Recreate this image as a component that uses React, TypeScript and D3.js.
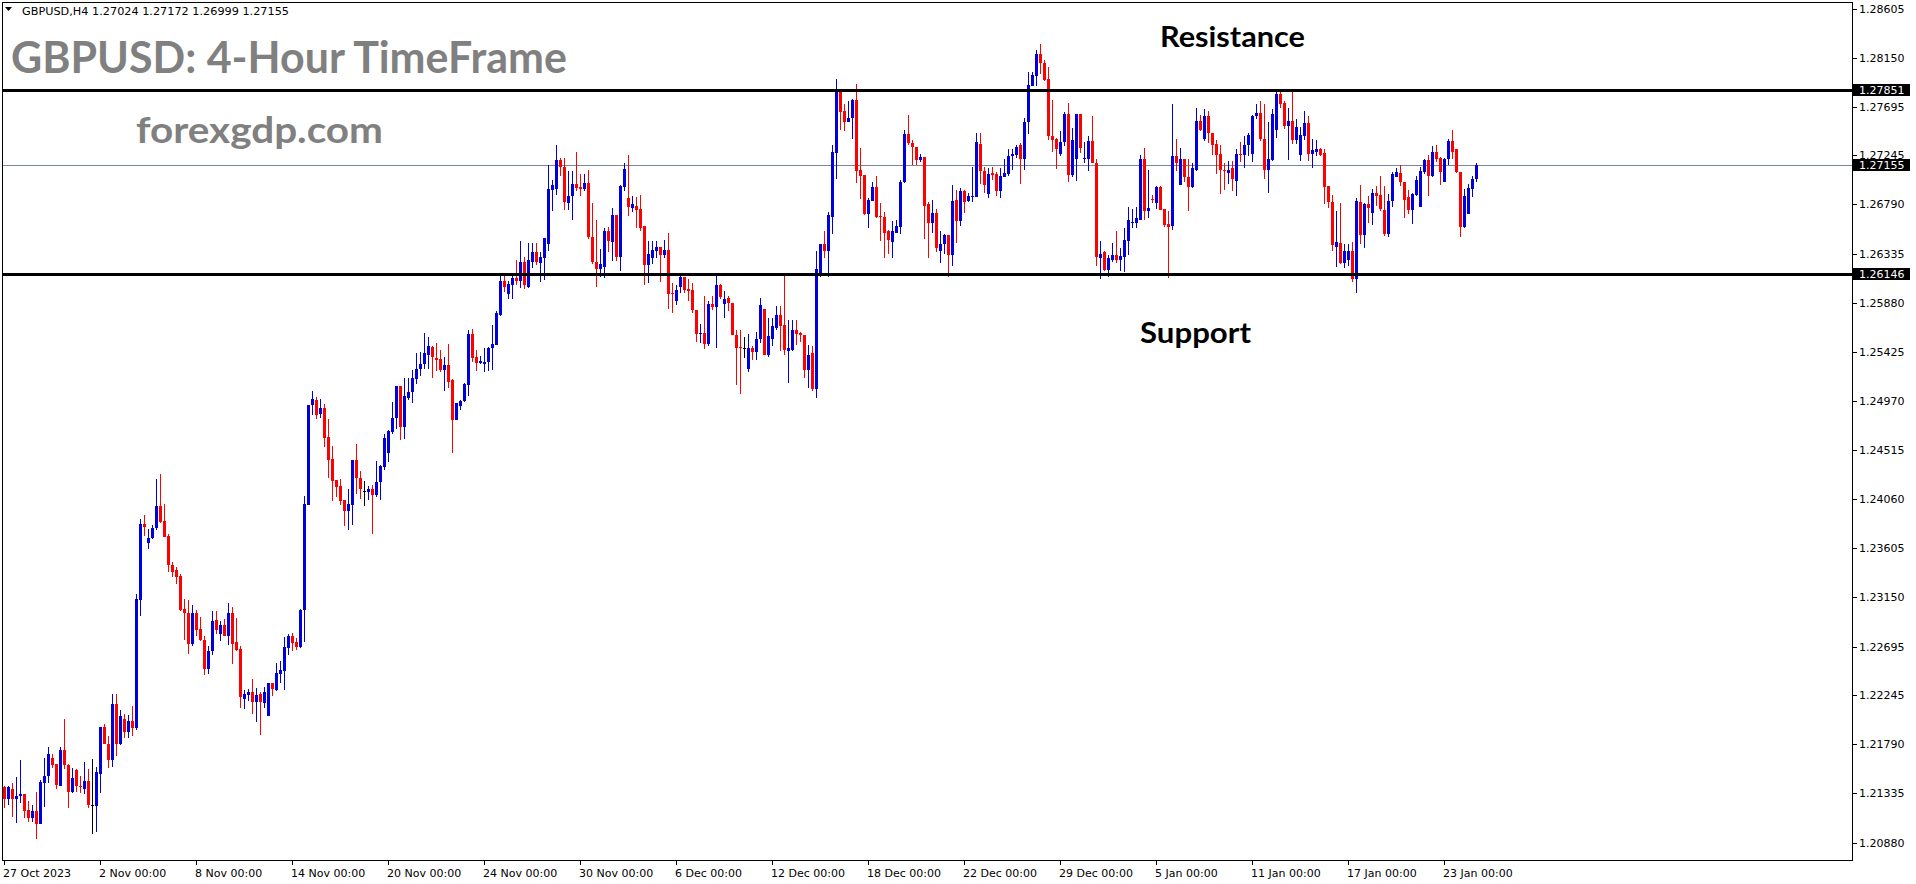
import React from "react";
import * as d3 from "d3";

const opens = [
  1.2139,1.2128,1.2138,1.2128,1.2131,1.2133,1.2118,1.2111,1.2117,1.2105,
  1.2143,1.2150,1.2166,1.2161,1.2140,1.2174,1.2160,1.2135,1.2155,1.2140,
  1.2138,1.2145,1.2123,1.2122,1.2151,1.2195,1.2179,1.2164,1.2216,1.2179,
  1.2202,1.2190,1.2201,1.2194,1.2313,1.2383,1.2365,1.2370,1.2379,1.2400,
  1.2386,1.2372,1.2345,1.2340,1.2335,1.2304,1.2301,1.2272,1.2301,1.2286,
  1.2276,1.2249,1.2265,1.2294,1.2281,1.2289,1.2279,1.2301,1.2274,1.2267,
  1.2221,1.2225,1.2227,1.2218,1.2226,1.2217,1.2205,1.2236,1.2229,1.2244,
  1.2247,1.2268,1.2279,1.2274,1.2269,1.2303,1.2401,1.2493,1.2498,1.2485,
  1.2490,1.2464,1.2443,1.2424,1.2418,1.2405,1.2395,1.2401,1.2442,1.2426,
  1.2414,1.2413,1.2415,1.2410,1.2422,1.2436,1.2449,1.2468,1.2481,1.2511,
  1.2473,1.2500,1.2505,1.2517,1.2527,1.2531,1.2540,1.2547,1.2537,1.2536,
  1.2526,1.2530,1.2516,1.2479,1.2492,1.2497,1.2512,1.2559,1.2538,1.2532,
  1.2531,1.2533,1.2546,1.2549,1.2577,1.2608,1.2596,1.2604,1.2611,1.2608,
  1.2626,1.2603,1.2626,1.2635,1.2625,1.2629,1.2642,1.2692,1.2693,1.2720,
  1.2714,1.2680,1.2687,1.2698,1.2695,1.2693,1.2699,1.2649,1.2626,1.2619,
  1.2621,1.2654,1.2644,1.2669,1.2630,1.2695,1.2685,1.2676,1.2678,1.2675,
  1.2659,1.2623,1.2629,1.2636,1.2640,1.2632,1.2637,1.2597,1.2590,1.2603,
  1.2612,1.2601,1.2600,1.2581,1.2559,1.2560,1.2550,1.2587,1.2584,1.2604,
  1.2587,1.2592,1.2588,1.2558,1.2547,1.2546,1.2527,1.2546,1.2542,1.2554,
  1.2582,1.2540,1.2554,1.2565,1.2577,1.2567,1.2543,1.2544,1.2563,1.2560,
  1.2558,1.2526,1.2541,1.2508,1.2613,1.2642,1.2636,1.2667,1.2727,1.2785,
  1.2766,1.2755,1.2759,1.2776,1.2711,1.2706,1.2670,1.2682,1.2695,1.2668,
  1.2667,1.2654,1.2644,1.2653,1.2658,1.2700,1.2744,1.2736,1.2732,1.2720,
  1.2723,1.2679,1.2662,1.2671,1.2636,1.2642,1.2651,1.2632,1.2683,1.2664,
  1.2691,1.2682,1.2686,1.2686,1.2735,1.2710,1.2689,1.2708,1.2707,1.2691,
  1.2704,1.2707,1.2724,1.2725,1.2734,1.2721,1.2755,1.2789,1.2798,1.2818,
  1.2810,1.2795,1.2742,1.2740,1.2726,1.2737,1.2763,1.2706,1.2721,1.2763,
  1.2721,1.2721,1.2738,1.2717,1.2629,1.2635,1.2618,1.2628,1.2632,1.2628,
  1.2630,1.2645,1.2662,1.2662,1.2665,1.2721,1.2673,1.2684,1.2680,1.2695,
  1.2675,1.2661,1.2659,1.2724,1.2697,1.2721,1.2704,1.2695,1.2711,1.2756,
  1.2740,1.2761,1.2745,1.2735,1.2726,1.2711,1.2708,1.2713,1.2701,1.2726,
  1.2725,1.2734,1.2726,1.2761,1.2764,1.2740,1.2711,1.2720,1.2748,1.2781,
  1.2773,1.2752,1.2756,1.2739,1.2725,1.2742,1.2754,1.2726,1.2728,1.2730,
  1.2727,1.2696,1.2681,1.2640,1.2643,1.2625,1.2628,1.2636,1.2610,1.2681,
  1.2651,1.2679,1.2671,1.2690,1.2688,1.2674,1.2652,1.2682,1.2704,1.2708,
  1.2700,1.2686,1.2674,1.2688,1.2677,1.2709,1.2720,1.2705,1.2728,1.2722,
  1.2700,1.2721,1.2738,1.2730,1.2709,1.2658,1.2670,1.2693,1.27024,
];

const highs = [
  1.2140,1.2140,1.2143,1.2149,1.2164,1.2133,1.2126,1.2123,1.2135,1.2146,
  1.2166,1.2176,1.2170,1.2161,1.2176,1.2202,1.2161,1.2157,1.2156,1.2150,
  1.2163,1.2156,1.2165,1.2158,1.2195,1.2198,1.2187,1.2226,1.2226,1.2211,
  1.2207,1.2206,1.2214,1.2318,1.2388,1.2391,1.2378,1.2382,1.2425,1.2429,
  1.2402,1.2374,1.2348,1.2343,1.2337,1.2314,1.2313,1.2308,1.2303,1.2297,
  1.2279,1.2270,1.2302,1.2302,1.2293,1.2295,1.2310,1.2306,1.2296,1.2270,
  1.2229,1.2230,1.2239,1.2231,1.2227,1.2232,1.2236,1.2236,1.2254,1.2256,
  1.2278,1.2281,1.2282,1.2277,1.2304,1.2409,1.2493,1.2506,1.2501,1.2499,
  1.2494,1.2480,1.2455,1.2424,1.2425,1.2405,1.2415,1.2442,1.2457,1.2432,
  1.2423,1.2418,1.2419,1.2441,1.2438,1.2466,1.2470,1.2496,1.2511,1.2511,
  1.2518,1.2518,1.2526,1.2541,1.2542,1.2560,1.2556,1.2548,1.2551,1.2544,
  1.2538,1.2550,1.2517,1.2495,1.2498,1.2514,1.2563,1.2564,1.2544,1.2539,
  1.2546,1.2547,1.2567,1.2580,1.2614,1.2613,1.2608,1.2615,1.2628,1.2645,
  1.2630,1.2643,1.2643,1.2643,1.2635,1.2648,1.2716,1.2702,1.2734,1.2722,
  1.2722,1.2710,1.2710,1.2728,1.2707,1.2707,1.2711,1.2680,1.2665,1.2638,
  1.2657,1.2658,1.2676,1.2669,1.2697,1.2717,1.2725,1.2687,1.2686,1.2688,
  1.2659,1.2645,1.2645,1.2645,1.2640,1.2646,1.2653,1.2606,1.2604,1.2614,
  1.2612,1.2610,1.2606,1.2581,1.2568,1.2594,1.2590,1.2594,1.2614,1.2605,
  1.2599,1.2594,1.2588,1.2563,1.2563,1.2556,1.2559,1.2548,1.2561,1.2592,
  1.2582,1.2574,1.2574,1.2585,1.2585,1.2615,1.2572,1.2572,1.2572,1.2561,
  1.2558,1.2549,1.2548,1.2636,1.2642,1.2654,1.2672,1.2734,1.2795,1.2785,
  1.2772,1.2775,1.2777,1.2791,1.2731,1.2706,1.2685,1.2700,1.2705,1.2680,
  1.2672,1.2655,1.2664,1.2665,1.2702,1.2748,1.2762,1.2739,1.2732,1.2726,
  1.2723,1.2681,1.2683,1.2675,1.2654,1.2652,1.2651,1.2697,1.2692,1.2694,
  1.2692,1.2690,1.2714,1.2745,1.2745,1.2714,1.2713,1.2714,1.2709,1.2713,
  1.2721,1.2730,1.2730,1.2734,1.2736,1.2759,1.2802,1.2802,1.2822,1.2828,
  1.2813,1.2806,1.2776,1.2741,1.2747,1.2765,1.2773,1.2750,1.2763,1.2763,
  1.2737,1.2742,1.2761,1.2721,1.2645,1.2636,1.2632,1.2643,1.2654,1.2639,
  1.2657,1.2677,1.2675,1.2677,1.2725,1.2731,1.2711,1.2688,1.2696,1.2696,
  1.2675,1.2673,1.2772,1.2740,1.2731,1.2721,1.2721,1.2717,1.2768,1.2762,
  1.2767,1.2766,1.2745,1.2739,1.2734,1.2717,1.2719,1.2719,1.2730,1.2737,
  1.2742,1.2745,1.2762,1.2772,1.2775,1.2772,1.2755,1.2767,1.2783,1.2784,
  1.2775,1.2768,1.2784,1.2758,1.2751,1.2766,1.2761,1.2740,1.2739,1.2731,
  1.2730,1.2696,1.2688,1.2673,1.2680,1.2642,1.2642,1.2644,1.2685,1.2697,
  1.2680,1.2687,1.2693,1.2696,1.2705,1.2696,1.2689,1.2709,1.2713,1.2716,
  1.2700,1.2692,1.2690,1.2705,1.2714,1.2721,1.2725,1.2733,1.2734,1.2723,
  1.2722,1.2740,1.2748,1.2730,1.2709,1.2693,1.2698,1.2705,1.27172,
];

const lows = [
  1.2120,1.2123,1.2112,1.2106,1.2125,1.2111,1.2107,1.2107,1.2091,1.2105,
  1.2121,1.2143,1.2157,1.2138,1.2140,1.2156,1.2120,1.2134,1.2135,1.2134,
  1.2133,1.2120,1.2096,1.2098,1.2134,1.2179,1.2157,1.2158,1.2168,1.2178,
  1.2185,1.2185,1.2187,1.2192,1.2298,1.2372,1.2360,1.2369,1.2377,1.2384,
  1.2371,1.2339,1.2334,1.2327,1.2302,1.2276,1.2263,1.2270,1.2279,1.2275,
  1.2243,1.2244,1.2262,1.2281,1.2275,1.2279,1.2271,1.2253,1.2265,1.2213,
  1.2212,1.2219,1.2207,1.2200,1.2188,1.2213,1.2205,1.2224,1.2228,1.2236,
  1.2229,1.2262,1.2265,1.2266,1.2268,1.2274,1.2401,1.2484,1.2480,1.2481,
  1.2454,1.2426,1.2404,1.2408,1.2401,1.2381,1.2377,1.2382,1.2411,1.2406,
  1.2400,1.2405,1.2374,1.2408,1.2405,1.2433,1.2440,1.2466,1.2471,1.2461,
  1.2462,1.2498,1.2495,1.2513,1.2520,1.2527,1.2527,1.2518,1.2525,1.2524,
  1.2506,1.2509,1.2449,1.2479,1.2489,1.2496,1.2502,1.2533,1.2525,1.2531,
  1.2524,1.2525,1.2526,1.2549,1.2576,1.2598,1.2591,1.2591,1.2604,1.2602,
  1.2601,1.2602,1.2620,1.2623,1.2607,1.2609,1.2636,1.2673,1.2688,1.2705,
  1.2674,1.2674,1.2665,1.2691,1.2687,1.2691,1.2647,1.2624,1.2603,1.2612,
  1.2611,1.2635,1.2627,1.2627,1.2617,1.2691,1.2668,1.2672,1.2657,1.2654,
  1.2604,1.2606,1.2624,1.2629,1.2607,1.2629,1.2582,1.2578,1.2586,1.2597,
  1.2597,1.2590,1.2578,1.2552,1.2551,1.2545,1.2548,1.2581,1.2546,1.2591,
  1.2574,1.2580,1.2558,1.2512,1.2503,1.2537,1.2524,1.2535,1.2535,1.2551,
  1.2540,1.2538,1.2548,1.2563,1.2543,1.2540,1.2514,1.2543,1.2549,1.2552,
  1.2518,1.2509,1.2506,1.2500,1.2612,1.2629,1.2612,1.2652,1.2703,1.2748,
  1.2747,1.2755,1.2740,1.2699,1.2684,1.2669,1.2657,1.2682,1.2666,1.2645,
  1.2629,1.2633,1.2629,1.2653,1.2652,1.2699,1.2734,1.2716,1.2716,1.2718,
  1.2647,1.2629,1.2653,1.2635,1.2625,1.2633,1.2612,1.2622,1.2643,1.2659,
  1.2671,1.2681,1.2681,1.2686,1.2698,1.2690,1.2685,1.2702,1.2687,1.2685,
  1.2704,1.2705,1.2711,1.2722,1.2698,1.2711,1.2744,1.2789,1.2789,1.2800,
  1.2793,1.2739,1.2728,1.2712,1.2724,1.2733,1.2700,1.2704,1.2701,1.2727,
  1.2717,1.2710,1.2717,1.2622,1.2610,1.2617,1.2612,1.2626,1.2625,1.2617,
  1.2616,1.2632,1.2657,1.2657,1.2665,1.2665,1.2666,1.2680,1.2675,1.2674,
  1.2658,1.2611,1.2655,1.2710,1.2697,1.2700,1.2673,1.2694,1.2710,1.2747,
  1.2738,1.2736,1.2725,1.2707,1.2689,1.2692,1.2698,1.2691,1.2687,1.2718,
  1.2713,1.2724,1.2718,1.2758,1.2738,1.2703,1.2690,1.2719,1.2741,1.2768,
  1.2749,1.2720,1.2735,1.2735,1.2719,1.2739,1.2719,1.2713,1.2724,1.2724,
  1.2679,1.2676,1.2636,1.2621,1.2624,1.2620,1.2622,1.2607,1.2597,1.2642,
  1.2639,1.2662,1.2660,1.2678,1.2673,1.2650,1.2649,1.2677,1.2704,1.2696,
  1.2666,1.2670,1.2661,1.2687,1.2677,1.2707,1.2687,1.2704,1.2718,1.2697,
  1.2700,1.2716,1.2721,1.2708,1.2649,1.2657,1.2670,1.2686,1.26999,
];

const closes = [
  1.2128,1.2139,1.2128,1.2131,1.2133,1.2117,1.2111,1.2117,1.2105,1.2144,
  1.2150,1.2170,1.2160,1.2141,1.2174,1.2160,1.2135,1.2148,1.2140,1.2139,
  1.2145,1.2123,1.2123,1.2153,1.2195,1.2179,1.2164,1.2216,1.2179,1.2205,
  1.2190,1.2201,1.2194,1.2314,1.2383,1.2380,1.2370,1.2379,1.2400,1.2385,
  1.2371,1.2345,1.2339,1.2334,1.2303,1.2301,1.2272,1.2301,1.2285,1.2276,
  1.2249,1.2265,1.2293,1.2285,1.2289,1.2279,1.2301,1.2272,1.2266,1.2223,
  1.2226,1.2227,1.2218,1.2225,1.2218,1.2227,1.2236,1.2230,1.2245,1.2248,
  1.2269,1.2279,1.2273,1.2269,1.2303,1.2402,1.2493,1.2499,1.2484,1.2490,
  1.2463,1.2442,1.2423,1.2417,1.2404,1.2395,1.2402,1.2442,1.2426,1.2415,
  1.2414,1.2415,1.2410,1.2422,1.2437,1.2463,1.2469,1.2481,1.2511,1.2473,
  1.2502,1.2505,1.2518,1.2527,1.2531,1.2541,1.2548,1.2538,1.2535,1.2526,
  1.2530,1.2515,1.2479,1.2495,1.2497,1.2513,1.2559,1.2537,1.2532,1.2534,
  1.2533,1.2546,1.2550,1.2578,1.2608,1.2603,1.2605,1.2611,1.2608,1.2626,
  1.2604,1.2628,1.2635,1.2626,1.2630,1.2648,1.2693,1.2697,1.2720,1.2714,
  1.2681,1.2687,1.2698,1.2694,1.2693,1.2699,1.2649,1.2626,1.2619,1.2624,
  1.2654,1.2645,1.2669,1.2630,1.2696,1.2712,1.2677,1.2679,1.2674,1.2657,
  1.2623,1.2633,1.2637,1.2640,1.2632,1.2637,1.2596,1.2596,1.2600,1.2612,
  1.2600,1.2599,1.2581,1.2559,1.2560,1.2550,1.2587,1.2584,1.2604,1.2593,
  1.2591,1.2588,1.2558,1.2546,1.2546,1.2546,1.2546,1.2542,1.2554,1.2586,
  1.2540,1.2557,1.2566,1.2577,1.2566,1.2544,1.2546,1.2563,1.2559,1.2558,
  1.2526,1.2540,1.2508,1.2619,1.2642,1.2636,1.2669,1.2728,1.2785,1.2765,
  1.2755,1.2759,1.2776,1.2710,1.2705,1.2670,1.2683,1.2695,1.2667,1.2667,
  1.2653,1.2646,1.2654,1.2659,1.2700,1.2744,1.2736,1.2732,1.2720,1.2723,
  1.2678,1.2662,1.2671,1.2639,1.2642,1.2651,1.2632,1.2682,1.2664,1.2691,
  1.2681,1.2687,1.2687,1.2737,1.2710,1.2697,1.2707,1.2706,1.2691,1.2705,
  1.2708,1.2724,1.2726,1.2732,1.2721,1.2755,1.2790,1.2799,1.2818,1.2810,
  1.2794,1.2742,1.2739,1.2730,1.2737,1.2763,1.2706,1.2739,1.2763,1.2731,
  1.2722,1.2738,1.2717,1.2630,1.2633,1.2618,1.2629,1.2632,1.2628,1.2631,
  1.2646,1.2665,1.2663,1.2666,1.2721,1.2673,1.2676,1.2683,1.2695,1.2674,
  1.2660,1.2658,1.2724,1.2717,1.2721,1.2704,1.2695,1.2713,1.2756,1.2748,
  1.2761,1.2745,1.2734,1.2725,1.2711,1.2710,1.2711,1.2703,1.2726,1.2725,
  1.2734,1.2743,1.2761,1.2764,1.2740,1.2711,1.2721,1.2763,1.2781,1.2772,
  1.2752,1.2756,1.2739,1.2751,1.2743,1.2754,1.2726,1.2729,1.2730,1.2725,
  1.2695,1.2681,1.2641,1.2644,1.2625,1.2636,1.2636,1.2610,1.2682,1.2651,
  1.2679,1.2676,1.2690,1.2687,1.2675,1.2652,1.2682,1.2707,1.2709,1.2700,
  1.2683,1.2674,1.2689,1.2702,1.2710,1.2720,1.2705,1.2728,1.2721,1.2709,
  1.2721,1.2738,1.2728,1.2709,1.2658,1.2687,1.2694,1.2703,1.27155,
];

const xTickIndex = [0, 24, 48, 72, 96, 120, 144, 168, 192, 216, 240, 264, 288, 312, 336, 360];
const xTickLabels = [
  "27 Oct 2023", "2 Nov 00:00", "8 Nov 00:00", "14 Nov 00:00", "20 Nov 00:00",
  "24 Nov 00:00", "30 Nov 00:00", "6 Dec 00:00", "12 Dec 00:00", "18 Dec 00:00",
  "22 Dec 00:00", "29 Dec 00:00", "5 Jan 00:00", "11 Jan 00:00", "17 Jan 00:00", "23 Jan 00:00",
];
const yTickValues = [
  1.28605, 1.2815, 1.27695, 1.27245, 1.2679, 1.26335, 1.2588, 1.25425, 1.2497,
  1.24515, 1.2406, 1.23605, 1.2315, 1.22695, 1.22245, 1.2179, 1.21335, 1.2088,
];
const resistanceLevel = 1.27851;
const supportLevel = 1.26146;
const lastPrice = 1.27155;
const headerText = "GBPUSD,H4  1.27024 1.27172 1.26999 1.27155";
const titleText = "GBPUSD: 4-Hour TimeFrame";
const siteText = "forexgdp.com";

export default function App() {
  const W = 1916;
  const H = 884;
  const frameL = 2;
  const frameR = 1852;
  const frameT = 2;
  const frameB = 860;

  const x = d3.scaleLinear().domain([0, closes.length - 1]).range([4, 4 + 4 * (closes.length - 1)]);
  const y = d3.scaleLinear().domain([1.2088, 1.28605]).range([842.5, 8.5]);
  const fmt = d3.format(".5f");

  const blue = "#0000dd";
  const red = "#ff0000";

  const candles = closes.map((c, i) => {
    const o = opens[i];
    const hi = Math.max(highs[i], o, c);
    const lo = Math.min(lows[i], o, c);
    const cx = Math.round(x(i));
    const color = c > o ? blue : c < o ? red : "#000000";
    const yTop = Math.round(y(Math.max(o, c)));
    const yBot = Math.round(y(Math.min(o, c)));
    return (
      <g key={i}>
        <rect x={cx} y={Math.round(y(hi))} width={1} height={Math.max(1, Math.round(y(lo)) - Math.round(y(hi)))} fill={color} />
        <rect x={cx - 1} y={yTop} width={3} height={Math.max(1, yBot - yTop)} fill={color} />
      </g>
    );
  });

  const lineY = (p: number) => Math.round(y(p));

  const priceBox = (p: number, key: string) => {
    const yy = lineY(p);
    return (
      <g key={key}>
        <rect x={1853} y={yy - 6} width={57} height={12} fill="#000" />
        <text x={1859} y={yy} dy="0.36em" fontSize={11} fill="#fff" fontFamily="DejaVu Sans">
          {fmt(p)}
        </text>
      </g>
    );
  };

  return (
    <svg
      width={W}
      height={H}
      viewBox={`0 0 ${W} ${H}`}
      style={{ position: "absolute", left: 0, top: 0, display: "block" }}
      shapeRendering="crispEdges"
    >
      <rect x={0} y={0} width={W} height={H} fill="#ffffff" />

      {/* texts on the chart */}
      <g shapeRendering="auto">
        <path d="M5,7 L12,7 L8.5,11 Z" fill="#000" />
        <text x={22} y={15} fontSize={10.5} fontFamily="DejaVu Sans" fill="#000" textLength={267} lengthAdjust="spacingAndGlyphs">
          {headerText}
        </text>
        <text x={11} y={73} fontSize={44} fontWeight={700} fontFamily="Lato" fill="#808080" textLength={556} lengthAdjust="spacingAndGlyphs">
          {titleText}
        </text>
        <text x={136} y={143} fontSize={36} fontWeight={700} fontFamily="Lato" fill="#808080" textLength={247} lengthAdjust="spacingAndGlyphs">
          {siteText}
        </text>
        <text x={1160} y={47} fontSize={29} fontWeight={700} fontFamily="Lato" fill="#000" textLength={145} lengthAdjust="spacingAndGlyphs">
          Resistance
        </text>
        <text x={1140} y={343} fontSize={29} fontWeight={700} fontFamily="Lato" fill="#000" textLength={111} lengthAdjust="spacingAndGlyphs">
          Support
        </text>
      </g>

      {/* current price line */}
      <line x1={frameL} x2={frameR} y1={lineY(lastPrice) + 0.5} y2={lineY(lastPrice) + 0.5} stroke="#778899" strokeWidth={1} />

      {/* candles */}
      <g>{candles}</g>

      {/* support / resistance */}
      <line x1={frameL} x2={frameR} y1={lineY(resistanceLevel) + 0.5} y2={lineY(resistanceLevel) + 0.5} stroke="#000" strokeWidth={3} />
      <line x1={frameL} x2={frameR} y1={lineY(supportLevel) + 0.5} y2={lineY(supportLevel) + 0.5} stroke="#000" strokeWidth={3} />

      {/* frame */}
      <rect x={frameL + 0.5} y={frameT + 0.5} width={frameR - frameL} height={frameB - frameT} fill="none" stroke="#000" strokeWidth={1} />

      {/* y axis */}
      <g>
        {yTickValues.map((v, i) => {
          const yy = lineY(v);
          return (
            <g key={i}>
              <line x1={frameR + 0.5} x2={frameR + 4.5} y1={yy + 0.5} y2={yy + 0.5} stroke="#000" />
              <text x={1859} y={yy} dy="0.36em" fontSize={11} fontFamily="DejaVu Sans" fill="#000" shapeRendering="auto">
                {fmt(v)}
              </text>
            </g>
          );
        })}
        {priceBox(resistanceLevel, "r")}
        {priceBox(lastPrice, "l")}
        {priceBox(supportLevel, "s")}
      </g>

      {/* x axis */}
      <g>
        {xTickIndex.map((idx, i) => {
          const xx = Math.round(x(idx));
          return (
            <g key={i}>
              <line x1={xx + 0.5} x2={xx + 0.5} y1={frameB + 0.5} y2={frameB + 5} stroke="#000" />
              <text x={xx - 1} y={877} fontSize={11} fontFamily="DejaVu Sans" fill="#000" shapeRendering="auto">
                {xTickLabels[i]}
              </text>
            </g>
          );
        })}
      </g>
    </svg>
  );
}
